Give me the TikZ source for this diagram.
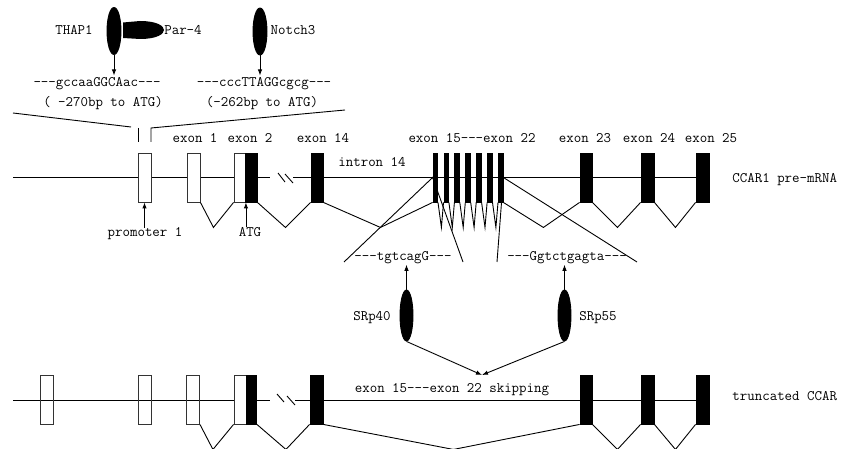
\documentclass[tikz,border=0pt]{standalone}
\usepackage{fontspec}
\usepackage{tikz}
\usetikzlibrary{shapes, arrows.meta, positioning}
\tikzstyle{every node}=[font=\fontsize{14.5}{16}\selectfont\ttfamily]
\tikzstyle{exon}=[draw=black!80,fill=white,rectangle,minimum width=13pt,minimum height=49pt,inner sep=0pt]
\tikzstyle{hollow}=[exon,fill=none]
\tikzstyle{cds}=[exon,draw=black,fill=black]
\tikzstyle{bar}=[cds,minimum width=4.5pt]
\tikzstyle{factor}=[draw,fill=black,ellipse,minimum width=14pt,minimum height=47pt,inner sep=0pt]
\tikzstyle{lbl}=[anchor=base,inner sep=0pt]

\begin{document}
\begin{tikzpicture}[x=1pt,y=-1pt,>={Latex[length=6pt,width=4.5pt]},line width=0.9pt]
  \useasboundingbox (0,0) rectangle (841,449);
  % promoter binding
  \node[factor] (thap) at (114,31) {};
  \fill (123,22.5) -- (140,21) .. controls (157,21) and (164,26) .. (164,30)
        .. controls (164,34) and (157,39) .. (140,39) -- (123,38) -- cycle;
  \node[lbl] (thapname) at (74,35) {THAP1};
  \node[lbl] (parname) at (183,35) {Par-4};
  \node[factor] (notch) at (260,31.5) {};
  \node[lbl] (notchname) at (293,35) {Notch3};
  \node[lbl] (seqa) at (97,87) {---gccaaGGCAac---};
  \node[lbl] (posa) at (103,107) {( -270bp to ATG)};
  \node[lbl] (seqb) at (264,87) {---cccTTAGGcgcg---};
  \node[lbl] (posb) at (262,107) {(-262bp to ATG)};
  \draw[->] (thap.south) -- ([yshift=2pt]thap |- seqa.north);
  \draw[->] (notch.south) -- ([yshift=2pt]notch |- seqb.north);
  \draw (13,113) -- (131,127);
  \draw (138,128) -- (138,142);
  \draw (151,142) -- (151,128) -- (345,110);

  % pre-mRNA
  \draw (13,177.5) -- (270,177.5);
  \draw (293,177.5) -- (709,177.5);
  \draw (278,173) -- (285,182);
  \draw (285,174) -- (293,183);
  \node[exon] (p1) at (144.5,177.5) {};
  \node[exon] (e1) at (193.5,177.5) {};
  \node[exon,minimum width=11.5pt] (e2a) at (239.75,177.5) {};
  \node[cds,minimum width=11.5pt] (e2b) at (251.25,177.5) {};
  \node[cds,minimum width=12pt] (e14) at (317,177.5) {};
  \foreach \i in {0,...,6}
    \node[bar] (b\i) at (435.3+10.9*\i,177.5) {};
  \node[cds,minimum width=12pt] (e23) at (586,177.5) {};
  \node[cds] (e24) at (647.5,177.5) {};
  \node[cds] (e25) at (702.5,177.5) {};
  \node[lbl] (l1) at (195,143) {exon 1};
  \node[lbl] (l2) at (250,143) {exon 2};
  \node[lbl] (l14) at (323,143) {exon 14};
  \node[lbl] (li14) at (372,167) {intron 14};
  \node[lbl] (l15) at (472,143) {exon 15---exon 22};
  \node[lbl] (l23) at (585,143) {exon 23};
  \node[lbl] (l24) at (649,143) {exon 24};
  \node[lbl] (l25) at (711,143) {exon 25};
  \node[lbl,anchor=base west] (pre) at (732,183) {CCAR1 pre-mRNA};
  \node[lbl] (prom) at (145,237) {promoter 1};
  \node[lbl] (atg) at (250,237) {ATG};
  \draw[->] (p1 |- prom.north) -- (p1.south);
  \draw[->] (e2a.south east |- atg.north) -- (e2a.south east);
  \draw (e1.south east) -- +(13,25) -- (e2a.south west);
  \draw (e2b.south east) -- +(28,25) -- (e14.south west);
  \draw (e14.south east) -- +(57,25) -- (b0.south west);
  \foreach \i/\j in {0/1,1/2,2/3,3/4,4/5,5/6}
    \draw (b\i.south east) -- +(3.4,25) -- (b\j.south west);
  \draw (b6.south east) -- +(40,25) -- (e23.south west);
  \draw (e23.south east) -- +(25,25) -- (e24.south west);
  \draw (e24.south east) -- +(21,25) -- (e25.south west);

  % splice sites
  \draw (344,262) -- (b0.west) -- (463,262);
  \draw (637,262) -- (b6.east) -- (497,262);
  \node[lbl] (sa) at (403,261) {---tgtcagG---};
  \node[lbl] (sb) at (567,261) {---Ggtctgagta---};
  \node[factor,minimum width=13pt,minimum height=51pt] (sr40) at (406.5,315.5) {};
  \node[factor,minimum width=13pt,minimum height=51pt] (sr55) at (564.5,315.5) {};
  \node[lbl] (sr40name) at (372,320) {SRp40};
  \node[lbl] (sr55name) at (598,320) {SRp55};
  \draw[->] (sr40.north) -- (sr40 |- sa.south);
  \draw[->] (sr55.north) -- (sr55 |- sb.south);
  \coordinate (meet) at (482,375);
  \draw[->] (sr40.south) -- (meet);
  \draw[->] (sr55.south) -- (meet);

  % truncated transcript
  \draw (13,400) -- (270,400);
  \draw (295,400) -- (709,400);
  \draw (277,394) -- (284,402);
  \draw (287,396) -- (295,405);
  \node[hollow] (t0) at (47,399.5) {};
  \node[hollow] (t1) at (144.5,399.5) {};
  \node[hollow] (t2) at (193,399.5) {};
  \node[exon,minimum width=12.5pt] (t3a) at (240.25,399.5) {};
  \node[cds,minimum width=10pt] (t3b) at (251.5,399.5) {};
  \node[cds] (t14) at (316.5,399.5) {};
  \node[cds,minimum width=12pt] (t23) at (586,399.5) {};
  \node[cds] (t24) at (647.5,399.5) {};
  \node[cds] (t25) at (702.5,399.5) {};
  \node[lbl] (skip) at (452,392) {exon 15---exon 22 skipping};
  \node[lbl,anchor=base west] (trunc) at (732,400) {truncated CCAR};
  \draw (t2.south east) -- +(13,25) -- (t3a.south west);
  \draw (t3b.south east) -- +(29,25) -- (t14.south west);
  \draw (t14.south east) -- +(130,25) -- (t23.south west);
  \draw (t23.south east) -- +(25,25) -- (t24.south west);
  \draw (t24.south east) -- +(21,25) -- (t25.south west);
\end{tikzpicture}
\end{document}
